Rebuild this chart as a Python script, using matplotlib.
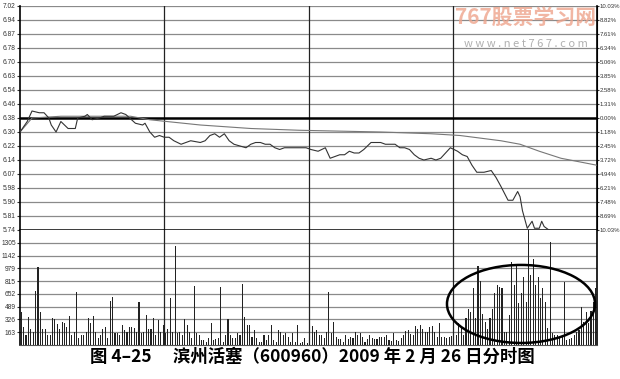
import matplotlib
matplotlib.use("Agg")
import matplotlib.pyplot as plt
from matplotlib.patches import Ellipse
import numpy as np

plt.rcParams['font.family'] = ['Noto Sans CJK SC', 'DejaVu Sans']

# ---- data ----
pre_close = 6.38
price_levels = [5.74, 5.82, 5.90, 5.98, 6.06, 6.14, 6.22, 6.30, 6.38,
                6.46, 6.54, 6.62, 6.70, 6.78, 6.86, 6.94, 7.02]
price_labels = ["5.74", "5.81", "5.90", "5.98", "6.07", "6.14", "6.22", "6.30", "6.38",
                "6.46", "6.54", "6.63", "6.70", "6.78", "6.87", "6.94", "7.02"]
pct_labels = ["10.03%", "8.69%", "7.48%", "6.21%", "4.94%", "3.72%", "2.45%", "1.18%", "0.00%",
              "1.31%", "2.58%", "3.85%", "5.06%", "6.34%", "7.61%", "8.82%", "10.03%"]

price_min = [0, 3, 5, 8, 10, 12, 13, 15, 17, 20, 23, 24, 27, 28, 30, 33, 35, 39, 42, 44,
             48, 51, 52, 54, 56, 58, 60, 62, 64, 67, 69, 71, 75, 77, 79, 81, 83, 85, 87, 89,
             94, 96, 98, 100, 102, 104, 106, 108, 110, 112, 116, 119, 121, 124, 127, 129, 131, 133, 135, 137,
             139, 141, 143, 146, 148, 150, 152, 156, 158, 160, 162, 164, 166, 168, 171, 173, 175, 177, 179, 182,
             184, 186, 188, 190, 193, 196, 198, 200, 203, 205, 207, 208, 209, 211, 213, 214, 216, 217, 218, 220, 240]
price_val = [6.30, 6.36, 6.42, 6.41, 6.41, 6.38, 6.34, 6.30, 6.36, 6.32, 6.32, 6.38, 6.39, 6.40, 6.37, 6.38, 6.39, 6.39, 6.41, 6.40,
             6.35, 6.34, 6.35, 6.30, 6.27, 6.28, 6.27, 6.27, 6.25, 6.23, 6.24, 6.25, 6.24, 6.25, 6.28, 6.29, 6.27, 6.29, 6.25, 6.23,
             6.21, 6.23, 6.24, 6.24, 6.23, 6.23, 6.21, 6.20, 6.21, 6.21, 6.21, 6.21, 6.20, 6.19, 6.21, 6.15, 6.16, 6.17, 6.17, 6.19,
             6.18, 6.18, 6.20, 6.24, 6.24, 6.24, 6.23, 6.23, 6.21, 6.21, 6.20, 6.17, 6.15, 6.14, 6.15, 6.14, 6.15, 6.18, 6.21, 6.19,
             6.17, 6.16, 6.11, 6.07, 6.07, 6.08, 6.04, 5.99, 5.91, 5.91, 5.96, 5.93, 5.85, 5.75, 5.79, 5.75, 5.75, 5.79, 5.76, 5.74, 5.74]

avg_min = [0, 5, 17, 33, 46, 54, 75, 96, 116, 150, 171, 183, 200, 208, 216, 225, 240]
avg_val = [6.30, 6.38, 6.39, 6.39, 6.39, 6.37, 6.34, 6.32, 6.31, 6.30, 6.29, 6.28, 6.25, 6.23, 6.19, 6.15, 6.11]

vol_ticks = [163, 326, 489, 652, 815, 979, 1142, 1305]
vol_top = 1468

vol_am1 = [420, 230, 130, 360, 200, 170, 690, 995, 420, 200, 210, 130, 130, 345, 335, 270, 210, 290, 280, 230,
           370, 130, 170, 676, 85, 128, 128, 170, 340, 280, 370, 170, 85, 128, 210, 230, 85, 560, 610, 150,
           150, 128, 255, 190, 170, 230, 230, 220, 170, 550, 150, 170, 380, 210, 210, 340, 128, 320, 170, 255]
vol_am2 = [150, 200, 604, 170, 1268, 150, 170, 128, 330, 260, 170, 85, 757, 150, 128, 64, 64, 43, 85, 277,
           64, 75, 85, 736, 43, 128, 335, 128, 85, 85, 150, 128, 775, 362, 255, 255, 106, 192, 85, 43,
           43, 128, 64, 128, 255, 64, 43, 192, 170, 128, 150, 106, 43, 150, 43, 255, 21, 43, 85, 21]
vol_pm1 = [213, 247, 170, 192, 128, 128, 85, 170, 673, 150, 290, 98, 72, 72, 43, 128, 72, 98, 85, 162,
           128, 150, 98, 43, 72, 128, 85, 72, 72, 106, 106, 106, 128, 64, 51, 150, 64, 51, 85, 128,
           180, 192, 136, 128, 247, 204, 255, 204, 170, 170, 234, 247, 170, 106, 285, 106, 106, 85, 106, 115]
vol_pm2 = [290, 128, 277, 213, 128, 341, 460, 417, 732, 341, 1013, 817, 400, 290, 204, 341, 460, 660, 766, 745,
           723, 170, 170, 383, 1064, 766, 1013, 532, 660, 872, 553, 1500, 894, 1098, 766, 872, 596, 723, 553, 213,
           1319, 149, 128, 128, 85, 106, 808, 64, 72, 85, 128, 170, 192, 489, 298, 425, 277, 430, 553, 732]
volume = vol_am1 + vol_am2 + vol_pm1 + vol_pm2

caption = "图 4–25　 滨州活塞（600960）2009 年 2 月 26 日分时图"

# ---- figure ----
fig = plt.figure(figsize=(6.2, 3.79), dpi=100)
L, R = 20 / 620, 597 / 620
ax = fig.add_axes([L, 1 - 230 / 379, R - L, (230 - 6) / 379])
axv = fig.add_axes([L, 1 - 345 / 379, R - L, (345 - 230) / 379], sharex=ax)

tick_font = dict(family="Liberation Sans", size=4.8)
right_font = dict(family="Liberation Sans", size=4.3)
grid_c = "#8a8a8a"
# price panel
for lv in price_levels:
    if lv in (pre_close, 5.74):
        ax.axhline(lv, color="black", lw=1.8, zorder=3)
    else:
        ax.axhline(lv, color=grid_c, lw=0.9, zorder=1)
for xm in (60, 120, 180):
    ax.axvline(xm, color="#222222", lw=0.9, zorder=2)
    axv.axvline(xm, color="#222222", lw=0.9, zorder=2)

ax.plot(avg_min, avg_val, color="#777777", lw=0.8, zorder=4)
ax.plot(price_min, price_val, color="#333333", lw=0.8, zorder=5)

ax.set_xlim(0, 240)
ax.set_ylim(5.74, 7.02)
ax.set_yticks(price_levels)
ax.set_yticklabels(price_labels, fontdict=tick_font)
ax.tick_params(axis="y", length=2, pad=1, colors="#333333")
ax.tick_params(axis="x", bottom=False, labelbottom=False)
for s in ("top", "bottom"):
    ax.spines[s].set_visible(False)
ax.spines["left"].set_linewidth(1.2)
ax.spines["right"].set_linewidth(1.2)

axr = ax.twinx()
axr.set_ylim(5.74, 7.02)
axr.set_yticks(price_levels)
axr.set_yticklabels(pct_labels, fontdict=right_font)
axr.tick_params(axis="y", length=1.5, pad=0.3, colors="#333333")
for s in ("top", "bottom", "left"):
    axr.spines[s].set_visible(False)

# volume panel
for v in vol_ticks:
    axv.axhline(v, color=grid_c, lw=0.9, zorder=1)
mins = np.arange(len(volume)) + 0.5
axv.bar(mins, volume, width=0.45, color="#222222", zorder=3)
axv.set_ylim(0, vol_top)
axv.set_yticks(vol_ticks)
axv.set_yticklabels([str(v) for v in vol_ticks], fontdict=tick_font)
axv.tick_params(axis="y", length=2, pad=1, colors="#333333")
axv.tick_params(axis="x", bottom=False, labelbottom=False)
axv.spines["top"].set_visible(False)
axv.spines["left"].set_linewidth(1.2)
axv.spines["right"].set_linewidth(1.2)
axv.spines["bottom"].set_color("#555555")

# circled heavy-volume area
ell = Ellipse((208.4, 524), 61.6, 996, fill=False, lw=1.8, color="black", zorder=6, clip_on=False)
axv.add_patch(ell)

# watermark
fig.text(526 / 620, 1 - 17 / 379, "767股票学习网", fontsize=15, fontweight="bold",
         color="#eea48c", alpha=0.8, ha="center", va="center", style="italic")
fig.text(526 / 620, 1 - 44 / 379, "w w w . n e t 7 6 7 . c o m", fontsize=8,
         color="#b0b0b0", ha="center", va="center")

fig.text(312 / 620, 1 - 357 / 379, caption, fontsize=12.5, fontweight="bold",
         ha="center", va="center", color="black")

fig.savefig("out.png", dpi=100)
